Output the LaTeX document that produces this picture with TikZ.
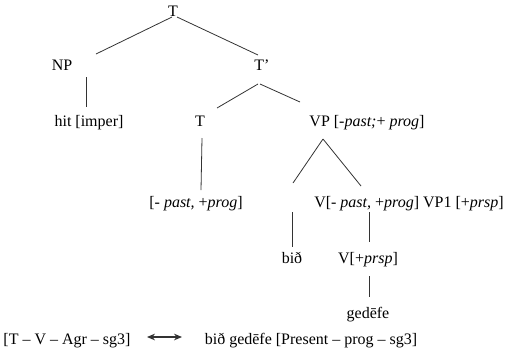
\documentclass[tikz,border=0pt]{standalone}
\usepackage{fontspec}
\setmainfont{Liberation Serif}
\usetikzlibrary{arrows.meta}
\begin{document}
\begin{tikzpicture}[x=0.75pt,y=-0.75pt,
  lbl/.style={anchor=base,inner sep=0pt,font=\fontsize{12pt}{14pt}\selectfont},
  edge/.style={draw=black!80,line width=0.6pt}]
\useasboundingbox (0,0) rectangle (509,351);
% nodes
\node[lbl] (T0) at (173,16) {T};
\node[lbl] (NP) at (62,70) {NP};
\node[lbl] (Tp) at (262,70) {T’};
\node[lbl] (hit) at (89,126) {hit [imper]};
\node[lbl] (T1) at (200,126) {T};
\node[lbl] (VP) at (367,126) {VP [-\textit{past;}+ \textit{prog}]};
\node[lbl] (feat) at (196,207) {[- \textit{past,} +\textit{prog}]};
\node[lbl] (V) at (409,207) {V[- \textit{past,} +\textit{prog}] VP1 [+\textit{prsp}]};
\node[lbl] (bid) at (292,263) {bið};
\node[lbl] (Vp) at (368,263) {V[+\textit{prsp}]};
\node[lbl] (ged) at (368,318) {gedēfe};
\node[lbl] (left) at (67,344) {[T – V – Agr – sg3]};
\node[lbl] (right) at (311,344) {bið gedēfe [Present – prog – sg3]};
% connectors
\draw[edge] ([shift={(-1,1)}]T0.base) -- ([shift={(34,-16)}]NP.base);
\draw[edge] ([shift={(4,1)}]T0.base) -- ([shift={(-4,-15)}]Tp.base);
\draw[edge] ([shift={(24,7)}]NP.base) -- ([shift={(-3,-19)}]hit.base);
\draw[edge] ([shift={(-4,14)}]Tp.base) -- ([shift={(17,-18)}]T1.base);
\draw[edge] ([shift={(-2,14)}]Tp.base) -- ([shift={(-67,-24)}]VP.base);
\draw[edge] ([shift={(2,12)}]T1.base) -- ([shift={(5,-17)}]feat.base);
\draw[edge] ([shift={(-44,13)}]VP.base) -- ([shift={(1,-80)}]bid.base);
\draw[edge] ([shift={(-44,13)}]VP.base) -- ([shift={(-48,-21)}]V.base);
\draw[edge] ([shift={(0,-51)}]bid.base) -- ([shift={(0,-16)}]bid.base);
\draw[edge] ([shift={(-40,5)}]V.base) -- ([shift={(1,-21)}]Vp.base);
\draw[edge] ([shift={(1,13)}]Vp.base) -- ([shift={(1,-21)}]ged.base);
\draw[edge,line width=0.8pt,{Stealth[length=6pt,width=5pt]}-{Stealth[length=6pt,width=5pt]}]
  ([shift={(80,-7)}]left.base) -- ([shift={(-129,-7)}]right.base);
\end{tikzpicture}
\end{document}
